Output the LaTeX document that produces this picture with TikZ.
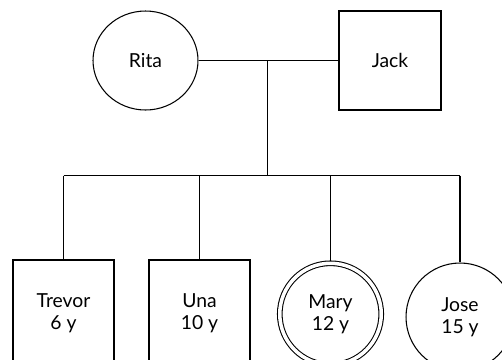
\documentclass[tikz,border=0pt]{standalone}
\usepackage{fontspec}
\setmainfont{Lato}
\usetikzlibrary{shapes.geometric, positioning, calc}
\tikzset{every picture/.append style={semithick}}
\tikzset{
  female/.style={draw, ellipse, inner sep=0pt},
  male/.style={draw, rectangle, inner sep=0pt},
  person/.style={align=center, font=\fontsize{11}{12.5}\selectfont}
}

\begin{document}
\begin{tikzpicture}[x=0.02cm, y=-0.02cm]
    % Frame of the cropped figure
    \useasboundingbox (0,0) rectangle (502,359);
    \clip (0,0) rectangle (502,359);

    % Parents
    \node[female, person, minimum width=2.1cm, minimum height=1.98cm] (rita) at (145.5,60.5) {Rita};
    \node[male, person, minimum width=2.04cm, minimum height=1.98cm] (jack) at (390,60.5) {Jack};
    \draw (rita) -- (jack);

    % Children
    \node[male, person, minimum width=2.02cm, minimum height=2.12cm] (trevor) at (63.5,313) {Trevor\\6 y};
    \node[male, person, minimum width=2.02cm, minimum height=2.12cm] (una) at (199.5,313) {Una\\10 y};
    \node[female, person, double, double distance=2pt, outer sep=1.3pt,
          minimum width=2.03cm, minimum height=2.03cm] (mary) at (330.5,314) {Mary\\12 y};
    \node[female, person, minimum width=2.16cm, minimum height=2.16cm] (jose) at (460,317) {Jose\\15 y};

    % Line of descent
    \coordinate (union) at (267.5,60.5);
    \coordinate (bar) at (267.5,175.5);
    \draw (union) -- (bar);
    \draw (bar -| trevor) -- (bar -| jose);
    \foreach \kid in {trevor, una, mary, jose} {
        \draw (bar -| \kid) -- (\kid);
    }
\end{tikzpicture}
\end{document}
